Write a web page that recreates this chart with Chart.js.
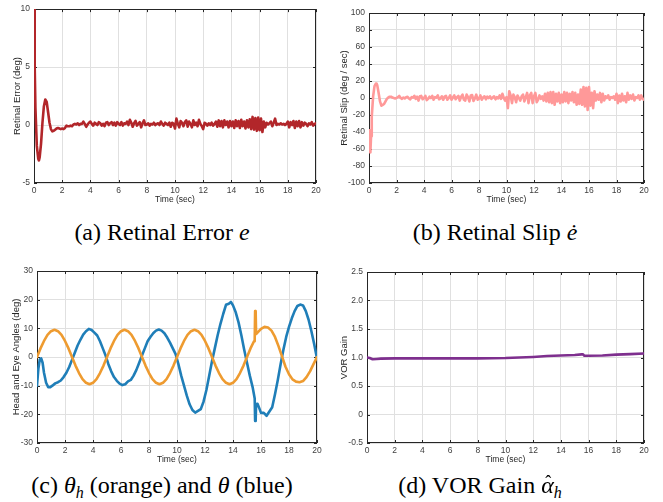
<!DOCTYPE html>
<html>
<head>
<meta charset="utf-8">
<script src="https://cdn.jsdelivr.net/npm/chart.js@4/dist/chart.umd.min.js"></script>
<style>
  html, body { margin: 0; padding: 0; background: #fff; }
  #page { position: relative; width: 663px; height: 502px; overflow: hidden; }
  canvas { position: absolute; }
  .cap {
    position: absolute; width: 340px; text-align: center;
    font-family: "Liberation Serif", "DejaVu Serif", serif;
    font-size: 24px; line-height: 28px; color: #000; white-space: nowrap;
  }
  .cap sub { font-size: 16px; vertical-align: -5px; line-height: 0; }
  .hat { position: relative; display: inline-block; }
  .hat b { position: absolute; left: 4px; top: -3px; font-size: 18px; font-weight: normal; font-style: normal; }
</style>
</head>
<body>
<div id="page">
  <canvas id="errChart" width="330" height="210" style="left:0;top:0"></canvas>
  <canvas id="slipChart" width="333" height="210" style="left:330px;top:0"></canvas>
  <canvas id="angleChart" width="330" height="215" style="left:0;top:255px"></canvas>
  <canvas id="gainChart" width="333" height="215" style="left:330px;top:255px"></canvas>
  <div class="cap" style="left:-8px;top:218px">(a) Retinal Error <i>e</i></div>
  <div class="cap" style="left:325px;top:218px">(b) Retinal Slip <i>ė</i></div>
  <div class="cap" style="left:-8px;top:471px">(c) <i>θ</i><sub><i>h</i></sub> (orange) and <i>θ</i> (blue)</div>
  <div class="cap" style="left:310px;top:471px">(d) VOR Gain <i class="hat">α<b>ˆ</b></i><sub><i>h</i></sub></div>
</div>
<script>
// ---- data ----
const xTicks = { min: 0, max: 20, step: 2 };

// (a) retinal error, deg: start-up transient, then samples every 0.1 s from 2.0 to 20.0
const errStartTime = [0, 0.05, 0.1, 0.2, 0.3, 0.35, 0.4, 0.5, 0.6, 0.7, 0.8, 0.85, 0.9, 1.0, 1.1, 1.2, 1.3, 1.4, 1.5, 1.6, 1.7, 1.8, 1.9];
const errStartDeg = [10, 5, 1.5, -1.8, -2.9, -3.05, -2.8, -1.6, 0.2, 1.6, 2.2, 2.2, 2.0, 1.1, 0.2, -0.35, -0.55, -0.5, -0.4, -0.3, -0.25, -0.3, -0.35];
const errDeg = [
  -0.3, -0.35, -0.25, -0.05, -0.1, -0.1, -0.05, -0.1, 0.05, 0.1,
  0.05, 0.15, 0.0, 0.1, 0.1, 0.3, 0.1, -0.15, 0.05, 0.2,
  0.3, 0.1, -0.05, 0.2, 0.1, 0.0, 0.25, 0.15, -0.05, 0.1,
  -0.1, 0.2, 0.25, 0.0, 0.15, 0.25, 0.0, 0.2, -0.05, 0.25,
  0.1, 0.0, 0.25, -0.05, 0.15, 0.1, 0.3, 0.0, 0.45, 0.2,
  -0.15, 0.15, 0.35, -0.05, 0.1, 0.25, -0.2, 0.15, 0.4, 0.0,
  0.05, 0.15, -0.05, 0.1, 0.05, 0.2, 0.0, 0.1, 0.15, 0.0,
  0.3, 0.1, -0.05, 0.2, 0.1, 0.0, 0.2, -0.15, 0.2, 0.1,
  -0.3, 0.55, 0.1, -0.2, 0.35, 0.2, -0.1, 0.25, 0.4, -0.15,
  0.3, 0.1, -0.2, 0.4, 0.0, 0.2, -0.1, 0.45, 0.1, -0.1,
  -0.35, 0.2, 0.1, -0.05, 0.15, 0.0, 0.2, -0.05, 0.1, 0.3,
  -0.15, 0.4, -0.1, 0.35, -0.2, 0.4, 0.0, 0.3, -0.2, 0.35,
  -0.1, 0.3, -0.25, 0.4, -0.1, 0.35, -0.25, 0.45, -0.1, 0.3,
  -0.3, 0.4, -0.2, 0.5, -0.35, 0.7, -0.4, 0.6, -0.5, 0.65,
  -0.45, 0.55, -0.6, 0.3, -0.2, 0.2, 0.05, 0.15, 0.3, -0.1,
  0.2, 0.55, 0.0, 0.1, 0.05, 0.15, 0.05, 0.1, 0.0, 0.1,
  0.3, -0.2, 0.25, 0.0, 0.35, -0.25, 0.3, -0.1, 0.35, -0.2,
  0.25, -0.05, 0.2, 0.1, -0.1, 0.15, 0.05, 0.25, -0.05, 0.1,
  0.15
];

// (b) retinal slip, deg/s: same layout
const slipStartTime = [0, 0.05, 0.1, 0.15, 0.2, 0.3, 0.4, 0.5, 0.55, 0.6, 0.7, 0.8, 0.9, 1.0, 1.1, 1.2, 1.3, 1.4, 1.5, 1.6, 1.7, 1.8, 1.9];
const slipStartDps = [-38, -62, -64, -45, -22, 2, 14, 17, 17, 15, 6, -4, -9, -8, -7, -4, -1, 0.5, 1.5, 1.5, 0.5, 0, -0.5];
const slipDps = [
  0, 1, 2.5, 0, -1, 0.5, -0.5, 1, 1.5, -0.5,
  -1.5, 1, 0.5, 2.5, -1, 1.5, -3, 2, 2.5, -1.5,
  0, 2.5, -2.5, -1, 1.5, 0, 2.5, -2, 1, 0.5,
  3, -1.5, -0.5, 2, -2, 1.5, 2.5, -2, 0, 3,
  -2, 0.5, 3, -1.5, 1, 2.5, -3, 1.5, 4, -2,
  -3, 4, 1, -4, 3, 3.5, -3.5, -0.5, 4, -2,
  -1, 3, -2, 0.5, 2, -1.5, 1.5, 0, 2, -1,
  0.5, 2, -1.5, 1, -0.5, 3, -1, 5, 0, -3,
  1, -12, 8, 3, -6, 4, 1, -5, 3, 0,
  -3, 2, 4, -4, 1, 6, -6, 3, 6, -6,
  2, 6, -5, -2, 3, -1, 2, -3, 5, -4,
  6, -5, 7, -6, 7, -8, 5, -4, 6, -6,
  4, -5, 7, -4, 6, -6, 5, -3, 7, -5,
  6, -8, 4, -7, 10, -8, 13, -10, 12, -14,
  13, -9, 6, -12, 8, -3, 4, -2, 6, -5,
  5, -3, 2, 0, 3, -2, 1, 0, 2, -2,
  5, -6, 3, -4, 5, -3, 2, -5, 6, -2,
  3, -1, 4, -3, 1, 0, 3, -2, 3, -1,
  -2
];
const steadyStart = 2.0;

// (c) head angle (orange) and eye angle (blue), deg
const headTime = [
  0, 0.25, 0.5, 0.75, 1, 1.25, 1.5, 1.75, 2, 2.25, 2.5, 2.75, 3, 3.25, 3.5, 3.75, 4, 4.25, 4.5, 4.75,
  5, 5.25, 5.5, 5.75, 6, 6.25, 6.5, 6.75, 7, 7.25, 7.5, 7.75, 8, 8.25, 8.5, 8.75, 9, 9.25, 9.5, 9.75,
  10, 10.25, 10.5, 10.75, 11, 11.25, 11.5, 11.75, 12, 12.25, 12.5, 12.75, 13, 13.25, 13.5, 13.75, 14, 14.25, 14.5, 14.75,
  15, 15.25, 15.5, 15.55, 15.58, 15.62, 15.65, 15.75, 16, 16.25, 16.5, 16.75, 17, 17.25, 17.5, 17.75,
  18, 18.25, 18.5, 18.75, 19, 19.25, 19.5, 19.75, 20
];
const headDeg = [
  0, 3, 5.6, 7.7, 9, 9.5, 9, 7.7, 5.6, 3, 0, -3, -5.6, -7.7, -9, -9.5, -9, -7.7, -5.6, -3,
  0, 3, 5.6, 7.7, 9, 9.5, 9, 7.7, 5.6, 3, 0, -3, -5.6, -7.7, -9, -9.5, -9, -7.7, -5.6, -3,
  0, 3, 5.6, 7.7, 9, 9.5, 9, 7.7, 5.6, 3, 0, -3, -5.6, -7.7, -9, -9.5, -9, -7.7, -5.6, -3,
  0, 3, 5.5, 6, 16, 15.5, 8, 8.5, 9.8, 10.5, 10.3, 9.2, 7, 3.8, 0.2, -3.4,
  -6, -7.8, -8.6, -8.8, -8.4, -7, -5, -2.5, 0
];
const eyeTime = [
  0, 0.1, 0.2, 0.3, 0.4, 0.5, 0.65, 0.8, 0.95, 1.1, 1.3, 1.5, 1.7, 1.9, 2.1, 2.3, 2.5, 2.7, 2.9,
  3.1, 3.3, 3.5, 3.7, 3.9, 4.1, 4.3, 4.5, 4.7, 4.9, 5.1, 5.3, 5.5, 5.7, 5.9, 6.1, 6.3, 6.5, 6.7, 6.9,
  7.1, 7.3, 7.5, 7.7, 7.9, 8.1, 8.3, 8.5, 8.7, 8.9, 9.1, 9.3, 9.5, 9.7, 9.9, 10.1, 10.3, 10.5, 10.7, 10.9,
  11.1, 11.3, 11.5, 11.7, 11.9, 12.1, 12.3, 12.5, 12.7, 12.9, 13.1, 13.3, 13.5, 13.7, 13.85, 14.0, 14.2, 14.4, 14.6, 14.8,
  15.0, 15.2, 15.4, 15.55, 15.58, 15.62, 15.65, 15.75, 15.85, 16.0, 16.2, 16.4, 16.6, 16.8, 17.0, 17.2, 17.4, 17.6, 17.8,
  18.0, 18.2, 18.4, 18.6, 18.8, 19.0, 19.2, 19.4, 19.6, 19.8, 20.0
];
const eyeDeg = [
  -10, -4, -0.8, -0.5, -2, -5.5, -9, -10.5, -10.5, -10, -9.2, -8.8, -8.2, -7, -5.5, -3.5, -1, 1.5, 4,
  6, 7.8, 9, 9.8, 9.4, 8.5, 7.5, 5.5, 3, 0.5, -2.5, -5, -7, -8.3, -9.3, -9.8, -9.5, -8.5, -8, -6.5,
  -4.5, -2, 0.5, 3, 5.5, 7, 8.3, 9.2, 9.6, 9.2, 8.3, 6.8, 5, 3, 1, -2.5, -6.5, -10, -13.5, -16.5,
  -18.5, -19.4, -18.8, -18.2, -15.5, -11.5, -6.5, -1.5, 3, 7.5, 11.5, 15, 18.2, 18.6, 19.2, 18, 15.5, 12, 7.5, 2.5,
  -2, -6.5, -10.5, -14.5, -22.3, -22, -16.5, -16.3, -17.5, -19.5, -19.5, -20.5, -19, -17.5, -13, -8, -2.5, 2.5, 7,
  10.5, 13.5, 16, 17.8, 18.3, 18, 16, 13, 9, 4.5, -0.5
];

// (d) VOR gain estimate
const gainTime = [0, 0.2, 0.4, 0.7, 1, 2, 4, 6, 8, 10, 11, 12, 13, 14, 15, 15.5, 15.6, 15.7, 16, 17, 18, 19, 20];
const gainValue = [1.0, 0.99, 0.97, 0.975, 0.98, 0.985, 0.985, 0.985, 0.985, 0.99, 1.0, 1.01, 1.025, 1.035, 1.045, 1.055, 1.055, 1.03, 1.03, 1.035, 1.05, 1.06, 1.07];

// ---- helpers ----
function pairs(times, values) {
  return times.map((t, i) => ({ x: t, y: values[i] }));
}

function startAndSteady(startTimes, startValues, steadyValues) {
  const pts = pairs(startTimes, startValues);
  steadyValues.forEach((v, i) => {
    pts.push({ x: (steadyStart * 10 + i) / 10, y: v });
  });
  return pts;
}

const FONT = "'Liberation Sans', Arial, Helvetica, sans-serif";

// MATLAB-style box with inward ticks on all four sides
const boxPlugin = {
  id: "matlabBox",
  beforeDatasetsDraw(chart) {
    const { ctx, chartArea: a, scales } = chart;
    const len = 3;
    ctx.save();
    ctx.strokeStyle = "#262626";
    ctx.lineWidth = 1;
    ctx.beginPath();
    scales.x.ticks.forEach((t) => {
      const px = Math.round(scales.x.getPixelForValue(t.value)) + 0.5;
      ctx.moveTo(px, a.bottom); ctx.lineTo(px, a.bottom - len);
      ctx.moveTo(px, a.top); ctx.lineTo(px, a.top + len);
    });
    scales.y.ticks.forEach((t) => {
      const py = Math.round(scales.y.getPixelForValue(t.value)) + 0.5;
      ctx.moveTo(a.left, py); ctx.lineTo(a.left + len, py);
      ctx.moveTo(a.right, py); ctx.lineTo(a.right - len, py);
    });
    ctx.stroke();
    ctx.strokeRect(Math.round(a.left) + 0.5, Math.round(a.top) + 0.5,
      Math.round(a.right - a.left) - 1, Math.round(a.bottom - a.top) - 1);
    ctx.restore();
  },
};

function makePanel(canvasId, cfg) {
  return new Chart(document.getElementById(canvasId), {
    type: "line",
    data: { datasets: cfg.datasets },
    options: {
      responsive: false,
      animation: false,
      layout: { padding: { top: cfg.padTop, right: cfg.padRight, left: 0, bottom: 0 } },
      plugins: { legend: { display: false }, tooltip: { enabled: false } },
      elements: {
        point: { radius: 0 },
        line: { borderWidth: 2.6, tension: 0, borderJoinStyle: "round", borderCapStyle: "round" },
      },
      scales: {
        x: {
          type: "linear",
          min: xTicks.min,
          max: xTicks.max,
          afterFit: (s) => { s.height = 27; },
          border: { display: false },
          grid: { color: "#e0e0e0", drawTicks: false },
          ticks: { stepSize: xTicks.step, padding: 3, color: "#404040", font: { family: FONT, size: 8.5 } },
          title: {
            display: true, text: "Time (sec)", color: "#262626",
            font: { family: FONT, size: 8.5 }, padding: { top: 0, bottom: 5 },
          },
        },
        y: {
          min: cfg.yMin,
          max: cfg.yMax,
          afterFit: (s) => { s.width = cfg.yWidth; },
          border: { display: false },
          grid: { color: "#e0e0e0", drawTicks: false },
          ticks: { stepSize: cfg.yStep, padding: 4, color: "#404040", font: { family: FONT, size: 8.5 } },
          title: {
            display: true, text: cfg.yTitle, color: "#262626",
            font: { family: FONT, size: 9.5 }, padding: { top: cfg.yTitlePad, bottom: 0 },
          },
        },
      },
    },
    plugins: [boxPlugin],
  });
}

makePanel("errChart", {
  datasets: [{ data: startAndSteady(errStartTime, errStartDeg, errDeg), borderColor: "#B2262A" }],
  yMin: -5, yMax: 10, yStep: 5, yTitle: "Retinal Error (deg)",
  yWidth: 34, padTop: 8, padRight: 14, yTitlePad: 12,
});

makePanel("slipChart", {
  datasets: [{ data: startAndSteady(slipStartTime, slipStartDps, slipDps), borderColor: "#FF9999" }],
  yMin: -100, yMax: 100, yStep: 20, yTitle: "Retinal Slip (deg / sec)",
  yWidth: 39, padTop: 13, padRight: 19, yTitlePad: 9,
});

makePanel("angleChart", {
  datasets: [
    { data: pairs(headTime, headDeg), borderColor: "#EE9B30" },
    { data: pairs(eyeTime, eyeDeg), borderColor: "#1F7EB8" },
  ],
  yMin: -30, yMax: 30, yStep: 10, yTitle: "Head and Eye Angles (deg)",
  yWidth: 37, padTop: 16, padRight: 13, yTitlePad: 11,
});

makePanel("gainChart", {
  datasets: [{ data: pairs(gainTime, gainValue), borderColor: "#7E2F8E" }],
  yMin: -0.5, yMax: 2.5, yStep: 0.5, yTitle: "VOR Gain",
  yWidth: 37, padTop: 17, padRight: 19, yTitlePad: 9,
});
</script>
</body>
</html>
